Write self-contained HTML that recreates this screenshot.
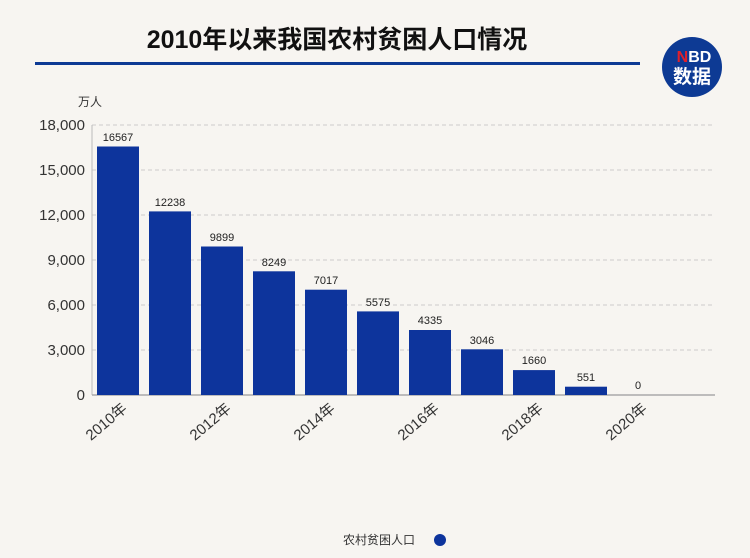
<!DOCTYPE html>
<html><head><meta charset="utf-8"><style>
body{margin:0;background:#f7f5f1;}
svg{display:block;font-family:"Liberation Sans","Noto Sans CJK SC",sans-serif;}
</style></head><body>
<svg width="750" height="558" viewBox="0 0 750 558">
<rect width="750" height="558" fill="#f7f5f1"/>
<text x="337" y="48" font-size="25" font-weight="bold" text-anchor="middle" fill="#111">2010年以来我国农村贫困人口情况</text>
<rect x="35" y="62" width="605" height="3" fill="#0d3a94"/>
<circle cx="692" cy="67" r="30" fill="#0d3a94"/>
<text x="694" y="62" font-size="16" font-weight="bold" fill="#fff" text-anchor="middle"><tspan fill="#e0202a">N</tspan>BD</text>
<text x="692" y="83" font-size="19" font-weight="bold" fill="#fff" text-anchor="middle">数据</text>
<text x="78" y="106" font-size="12" fill="#333">万人</text>
<g stroke="#ccc" stroke-dasharray="4,3">
<line x1="92" x2="715" y1="125" y2="125"/><line x1="92" x2="715" y1="170" y2="170"/>
<line x1="92" x2="715" y1="215" y2="215"/><line x1="92" x2="715" y1="260" y2="260"/>
<line x1="92" x2="715" y1="305" y2="305"/><line x1="92" x2="715" y1="350" y2="350"/>
</g>
<line x1="92" y1="125" x2="92" y2="395" stroke="#bbb"/>
<line x1="92" y1="395" x2="715" y2="395" stroke="#aaa" stroke-width="1.5"/>
<g font-size="15" fill="#333" text-anchor="end">
<text x="85" y="130">18,000</text><text x="85" y="175">15,000</text><text x="85" y="220">12,000</text>
<text x="85" y="265">9,000</text><text x="85" y="310">6,000</text><text x="85" y="355">3,000</text><text x="85" y="400">0</text>
</g>
<g fill="#0d349c">
<rect x="97" y="146.5" width="42" height="248.5"/>
<rect x="149" y="211.4" width="42" height="183.6"/>
<rect x="201" y="246.5" width="42" height="148.5"/>
<rect x="253" y="271.3" width="42" height="123.7"/>
<rect x="305" y="289.7" width="42" height="105.3"/>
<rect x="357" y="311.4" width="42" height="83.6"/>
<rect x="409" y="330" width="42" height="65"/>
<rect x="461" y="349.3" width="42" height="45.7"/>
<rect x="513" y="370.1" width="42" height="24.9"/>
<rect x="565" y="386.7" width="42" height="8.3"/>
</g>
<g font-size="11" fill="#222" text-anchor="middle">
<text x="118" y="141">16567</text><text x="170" y="206">12238</text><text x="222" y="241">9899</text>
<text x="274" y="266">8249</text><text x="326" y="284">7017</text><text x="378" y="306">5575</text>
<text x="430" y="324">4335</text><text x="482" y="344">3046</text><text x="534" y="364">1660</text>
<text x="586" y="381">551</text><text x="638" y="389">0</text>
</g>
<g font-size="15" fill="#333" text-anchor="end">
<text transform="translate(128,410) rotate(-40)">2010年</text>
<text transform="translate(232,410) rotate(-40)">2012年</text>
<text transform="translate(336,410) rotate(-40)">2014年</text>
<text transform="translate(440,410) rotate(-40)">2016年</text>
<text transform="translate(544,410) rotate(-40)">2018年</text>
<text transform="translate(648,410) rotate(-40)">2020年</text>
</g>
<text x="343" y="544" font-size="12" fill="#333">农村贫困人口</text>
<circle cx="440" cy="540" r="6" fill="#0d349c"/>
</svg>
</body></html>
